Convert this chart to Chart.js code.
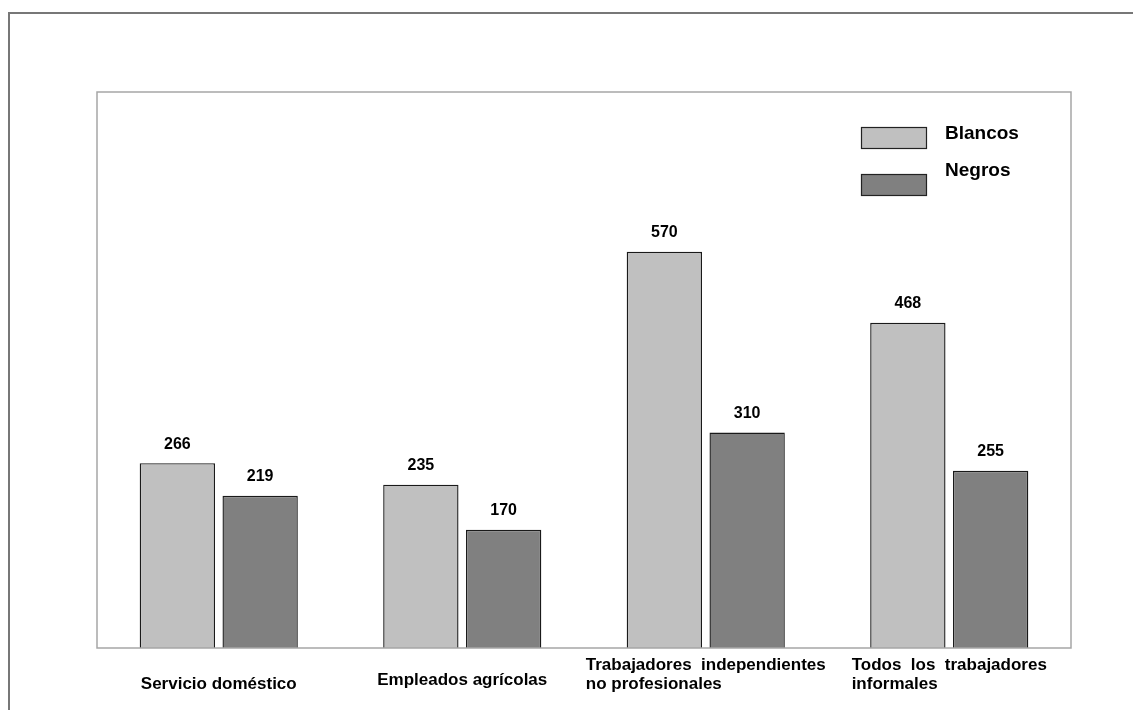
<!DOCTYPE html>
<html>
<head>
<meta charset="utf-8">
<script src="https://cdn.jsdelivr.net/npm/chart.js@4"></script>
<style>
  html, body { margin: 0; padding: 0; background: #fff; overflow: hidden; }
  #wrap { position: relative; width: 1133px; height: 710px; }
  #frame { position: absolute; left: 8px; top: 12px; width: 1200px; height: 800px;
           border-top: 2px solid #777; border-left: 2px solid #777; }
  canvas { position: absolute; left: 0; top: 0; }
</style>
</head>
<body>
<div id="wrap">
  <div id="frame"></div>
  <canvas id="myChart" width="1133" height="710"></canvas>
</div>
<script>
const categories = [
  ['Servicio doméstico'],
  ['Empleados agrícolas'],
  ['Trabajadores  independientes', 'no profesionales'],
  ['Todos  los  trabajadores', 'informales']
]
const seriesNames = ['Blancos', 'Negros']
const blancos = [266, 235, 570, 468]
const negros = [219, 170, 310, 255]

const lightGray = '#c0c0c0'
const darkGray = '#808080'
const fontName = '"Liberation Sans", Arial, sans-serif'

// plot box, value labels, category labels and legend
const decorations = {
  id: 'decorations',
  afterDatasetsDraw(chart) {
    const ctx = chart.ctx
    const area = chart.chartArea
    const xScale = chart.scales.x
    ctx.save()

    ctx.strokeStyle = '#a6a6a6'
    ctx.lineWidth = 1.5
    ctx.strokeRect(area.left, area.top, area.right - area.left, area.bottom - area.top)

    // values above bars
    ctx.fillStyle = '#000'
    ctx.font = 'bold 16px ' + fontName
    ctx.textAlign = 'center'
    ctx.textBaseline = 'middle'
    chart.data.datasets.forEach((ds, i) => {
      chart.getDatasetMeta(i).data.forEach((bar, j) => {
        ctx.fillText(ds.data[j], bar.x, bar.y - 19)
      })
    })

    // category labels, lines left aligned as a block
    ctx.font = 'bold 17px ' + fontName
    ctx.textAlign = 'left'
    categories.forEach((lines, i) => {
      var cx = xScale.getPixelForValue(i)
      var w = Math.max(...lines.map(l => ctx.measureText(l).width))
      var x0 = cx - w / 2
      if (lines.length === 1) {
        ctx.fillText(lines[0], x0, i === 0 ? 684 : 680)
      } else {
        lines.forEach((l, k) => ctx.fillText(l, x0, 665 + k * 19))
      }
    })

    // legend
    var boxes = [[861, 127], [861, 174]]
    var textY = [134, 171]
    ctx.font = 'bold 19px ' + fontName
    chart.data.datasets.forEach((ds, i) => {
      ctx.fillStyle = ds.backgroundColor
      ctx.fillRect(boxes[i][0], boxes[i][1], 65, 21)
      ctx.strokeStyle = '#222'
      ctx.lineWidth = 1.2
      ctx.strokeRect(boxes[i][0] + 0.5, boxes[i][1] + 0.5, 65, 21)
      ctx.fillStyle = '#000'
      ctx.fillText(ds.label, 945, textY[i])
    })
    ctx.restore()
  }
}

var ctx = document.getElementById('myChart')
var chart = new Chart(ctx, {
  type: 'bar',
  data: {
    labels: categories,
    datasets: [
      { label: seriesNames[0], data: blancos, backgroundColor: lightGray, borderColor: '#1a1a1a', borderWidth: 1.4 },
      { label: seriesNames[1], data: negros, backgroundColor: darkGray, borderColor: '#1a1a1a', borderWidth: 1.4 }
    ]
  },
  options: {
    responsive: false,
    animation: false,
    layout: { padding: { left: 97, top: 92, right: 62, bottom: 62 } },
    datasets: { bar: { categoryPercentage: 0.68, barPercentage: 0.91 } },
    plugins: { legend: { display: false }, tooltip: { enabled: false } },
    scales: {
      x: { display: false },
      y: { display: false, min: 0, max: 800 }
    }
  },
  plugins: [decorations]
})
</script>
</body>
</html>
